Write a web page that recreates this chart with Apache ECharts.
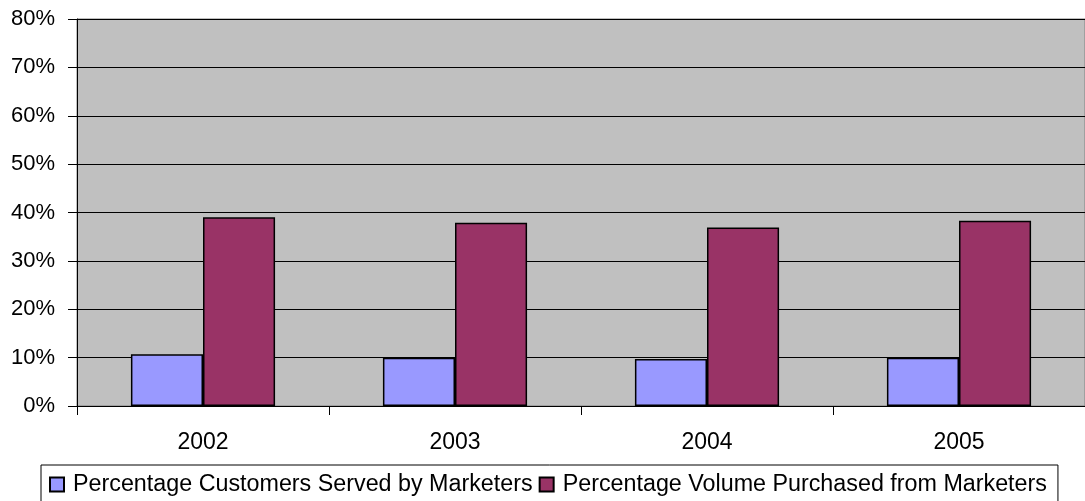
<!DOCTYPE html>
<html>
<head>
<meta charset="utf-8">
<script src="https://cdn.jsdelivr.net/npm/echarts@6/dist/echarts.min.js"></script>
<style>
  html, body { margin: 0; padding: 0; background: #ffffff; }
  #chart { width: 1085px; height: 501px; }
</style>
</head>
<body>
<div id="chart"></div>
<script>
// Marketer share of customers and volume, by year
const years = ['2002', '2003', '2004', '2005'];
const customersServed = [10.7, 10.0, 9.7, 10.0];
const volumePurchased = [39.0, 37.9, 36.9, 38.3];
const seriesNames = [
  'Percentage Customers Served by Marketers',
  'Percentage Volume Purchased from Marketers'
];

const FONT = '"Liberation Sans", Arial, sans-serif';
const chart = echarts.init(document.getElementById('chart'), null, { renderer: 'canvas' });

chart.setOption({
  animation: false,
  backgroundColor: '#ffffff',
  grid: {
    left: 77, right: 0, top: 19, bottom: 95,
    show: true,
    backgroundColor: '#C0C0C0',
    borderColor: '#808080',
    borderWidth: 1
  },
  legend: {
    left: 41,
    top: 465,
    width: 1040,
    padding: [8, 11, 10, 8],
    itemGap: 6,
    itemWidth: 14,
    itemHeight: 14,
    borderColor: '#000000',
    borderWidth: 1,
    backgroundColor: '#ffffff',
    icon: 'rect',
    textStyle: { fontFamily: FONT, fontSize: 23.3, color: '#000000', padding: [0, 0, 0, 4] },
    data: seriesNames
  },
  xAxis: {
    type: 'category',
    data: years,
    axisLine: { show: true, lineStyle: { color: '#000000', width: 1 } },
    axisTick: { show: true, length: 9, alignWithLabel: false, lineStyle: { color: '#000000' } },
    axisLabel: { fontFamily: FONT, fontSize: 23, color: '#000000', margin: 25 },
    splitLine: { show: false }
  },
  yAxis: {
    type: 'value',
    min: 0,
    max: 80,
    interval: 10,
    axisLine: { show: true, lineStyle: { color: '#000000', width: 1 } },
    axisTick: { show: true, length: 9, lineStyle: { color: '#000000' } },
    axisLabel: { fontFamily: FONT, fontSize: 22, color: '#000000', margin: 22, formatter: '{value}%' },
    splitLine: { show: true, lineStyle: { color: '#000000', width: 1 } }
  },
  series: [
    {
      name: seriesNames[0],
      type: 'bar',
      data: customersServed,
      barGap: '0%',
      barCategoryGap: '42.8%',
      itemStyle: { color: '#9999FF', borderColor: '#000000', borderWidth: 1.5 }
    },
    {
      name: seriesNames[1],
      type: 'bar',
      data: volumePurchased,
      barGap: '0%',
      barCategoryGap: '42.8%',
      itemStyle: { color: '#993366', borderColor: '#000000', borderWidth: 1.5 }
    }
  ]
});
</script>
</body>
</html>
